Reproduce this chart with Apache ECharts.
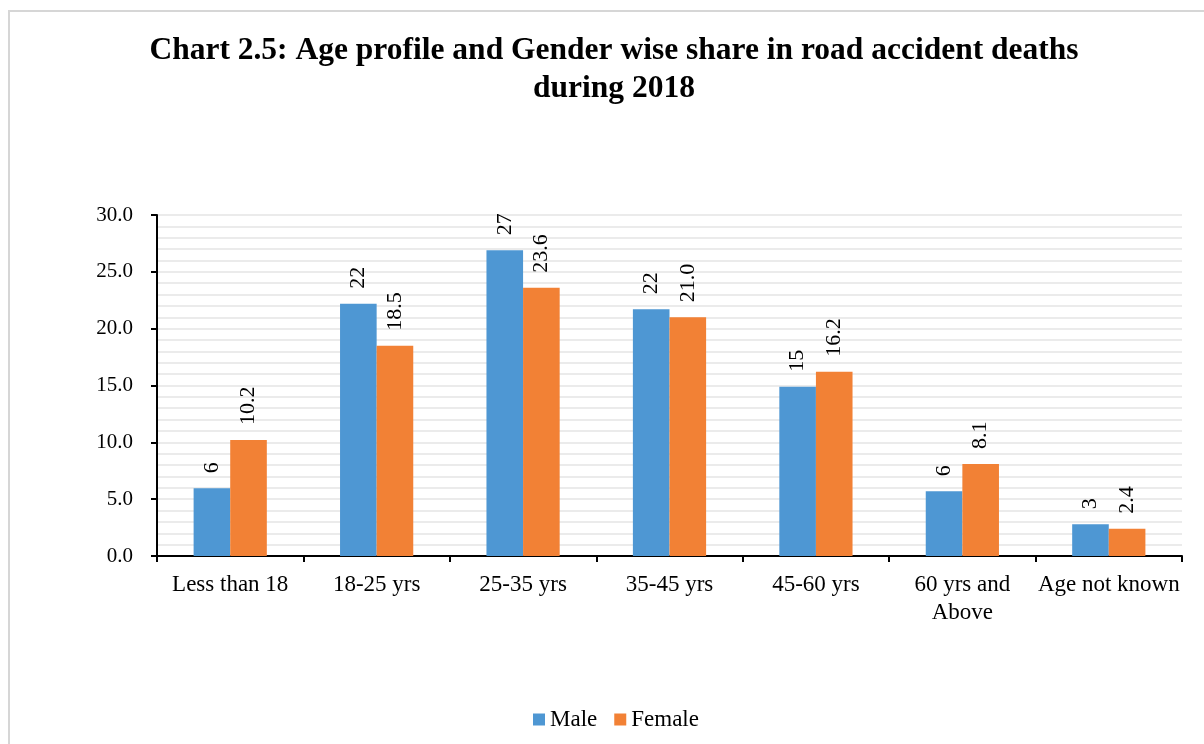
<!DOCTYPE html>
<html>
<head>
<meta charset="utf-8">
<script src="https://cdn.jsdelivr.net/npm/echarts@6/dist/echarts.min.js"></script>
<style>
  html, body { margin: 0; padding: 0; background: #fff; }
  #main { width: 1204px; height: 744px; }
</style>
</head>
<body>
<div id="main"></div>
<script>
// categories and values
var ageGroups = ['Less than 18', '18-25 yrs', '25-35 yrs', '35-45 yrs', '45-60 yrs', '60 yrs and\nAbove', 'Age not known'];
var maleShare = [5.95, 22.2, 26.9, 21.7, 14.9, 5.7, 2.8];
var femaleShare = [10.2, 18.5, 23.6, 21.0, 16.2, 8.1, 2.4];

var serif = 'Liberation Serif';

var myChart = echarts.init(document.getElementById('main'));

function valueLabel(fmt) {
    return {
        show: true,
        position: 'top',
        rotate: 90,
        align: 'left',
        verticalAlign: 'middle',
        distance: 15,
        color: '#000',
        fontFamily: serif,
        fontSize: 22,
        formatter: fmt
    };
}

var option = {
    backgroundColor: '#fff',
    title: {
        text: 'Chart 2.5: Age profile and Gender wise share in road accident deaths\nduring 2018',
        left: 609,
        textAlign: 'center',
        top: 27,
        textStyle: {
            fontFamily: serif,
            fontWeight: 'bold',
            fontSize: 31.5,
            lineHeight: 38,
            color: '#000'
        }
    },
    // frame around the chart area
    graphic: [
        {
            type: 'rect',
            shape: { x: 9, y: 11, width: 1400, height: 900 },
            style: { fill: null, stroke: '#d6d6d6', lineWidth: 2 },
            silent: true
        }
    ],
    legend: {
        data: ['Male', 'Female'],
        left: 528,
        top: 703,
        itemWidth: 12,
        itemHeight: 12,
        itemGap: 17,
        icon: 'rect',
        textStyle: { fontFamily: serif, fontSize: 23, color: '#000' }
    },
    grid: {
        left: 157,
        right: 22,
        top: 215,
        bottom: 188,
        containLabel: false
    },
    xAxis: {
        type: 'category',
        data: ageGroups,
        axisLine: { lineStyle: { color: '#000', width: 2 } },
        axisTick: { show: true, length: 6, lineStyle: { color: '#000', width: 2 } },
        axisLabel: {
            margin: 15,
            interval: 0,
            color: '#000',
            fontFamily: serif,
            fontSize: 23,
            lineHeight: 28
        }
    },
    yAxis: {
        type: 'value',
        min: 0,
        max: 30,
        interval: 5,
        axisLine: { show: true, lineStyle: { color: '#000', width: 2 } },
        axisTick: { show: true, length: 6, lineStyle: { color: '#000', width: 2 } },
        axisLabel: {
            margin: 24,
            color: '#000',
            fontFamily: serif,
            fontSize: 21,
            formatter: function (v) { return v.toFixed(1); }
        },
        splitLine: { show: true, lineStyle: { color: '#ebebeb', width: 2 } },
        minorTick: { show: false, splitNumber: 5 },
        minorSplitLine: { show: true, lineStyle: { color: '#ebebeb', width: 2 } }
    },
    series: [
        {
            name: 'Male',
            type: 'bar',
            data: maleShare,
            barGap: '0%',
            barCategoryGap: '50%',
            itemStyle: { color: '#4e97d3' },
            label: valueLabel(function (p) { return Math.round(p.value); })
        },
        {
            name: 'Female',
            type: 'bar',
            data: femaleShare,
            barGap: '0%',
            barCategoryGap: '50%',
            itemStyle: { color: '#f28135' },
            label: valueLabel(function (p) { return p.value.toFixed(1); })
        }
    ]
};

myChart.setOption(option);
</script>
</body>
</html>
